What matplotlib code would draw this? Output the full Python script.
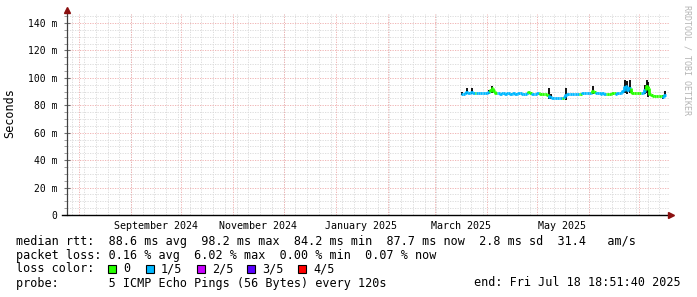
import datetime as dt
import matplotlib
matplotlib.use("Agg")
import matplotlib.pyplot as plt
import matplotlib.dates as mdates
from matplotlib.collections import LineCollection
from matplotlib.patches import Rectangle
from matplotlib.ticker import MultipleLocator, FuncFormatter

plt.rcParams['font.family'] = ['DejaVu Sans Mono']

W, H = 697, 297

# time window of the graph
t_start = dt.datetime(2024, 7, 24, 20, 0)
t_end = dt.datetime(2025, 7, 18, 18, 51, 40)
first_day = dt.datetime(2025, 3, 17)

# daily median rtt (ms) from Mar 17 2025
median = [
    88.6, 88.4, 88.9, 89.6, 88.7, 88.8, 89.4, 88.9, 88.7, 88.8,
    88.9, 88.8, 88.7, 88.8, 88.9, 89.0, 89.8, 91.5, 92.8, 90.2,
    89.1, 88.9, 88.7, 88.6, 88.7, 88.8, 88.6, 88.7, 88.8, 88.6,
    88.5, 88.7, 88.6, 88.6, 88.8, 88.7, 88.6, 88.5, 88.6, 88.7,
    89.6, 89.3, 88.6, 88.5, 88.6, 88.7, 88.8, 88.6, 88.5, 88.4,
    88.3, 87.6, 86.2, 85.9, 85.6, 85.4, 85.3, 85.5, 85.2, 85.4,
    85.6, 86.0, 87.8, 88.4, 88.2, 88.3, 88.1, 88.3, 88.4, 88.2,
    88.5, 88.6, 88.7, 88.8, 88.9, 88.7, 88.9, 89.2, 90.3, 89.4,
    88.9, 88.7, 88.8, 88.6, 88.7, 88.5, 88.6, 88.4, 88.6, 88.5,
    88.7, 88.8, 88.6, 88.7, 88.9, 89.2, 90.6, 93.5, 94.2, 91.0,
    92.4, 90.0, 89.2, 88.9, 89.0, 88.8, 88.9, 89.0, 89.3, 91.5,
    94.0, 92.8, 88.0, 87.2, 86.9, 86.8, 86.7, 86.9, 86.6, 86.8,
    85.9, 87.6,
]

# lost pings out of 5 for each day
loss = [
    1, 1, 1, 1, 1, 1, 1, 1, 0, 1,
    1, 1, 1, 1, 1, 1, 1, 0, 0, 0,
    0, 1, 1, 1, 1, 1, 1, 1, 1, 1,
    1, 1, 1, 1, 1, 1, 1, 1, 1, 1,
    0, 0, 1, 1, 1, 1, 0, 0, 0, 0,
    0, 0, 1, 1, 1, 1, 1, 1, 1, 1,
    0, 1, 1, 1, 1, 1, 1, 1, 1, 1,
    0, 0, 1, 1, 1, 1, 1, 1, 0, 0,
    1, 1, 1, 1, 1, 1, 0, 0, 0, 0,
    0, 0, 1, 1, 1, 1, 1, 1, 1, 1,
    1, 0, 0, 0, 0, 0, 0, 1, 1, 1,
    0, 0, 0, 0, 0, 0, 0, 0, 0, 0,
    1, 1,
]

# smoke (ping spread) on the days with a visible spread
spike_day = [0, 3, 6, 16, 18, 52, 53, 62, 78, 97, 98, 100, 109, 110, 111, 120, 121]
spike_lo = [87.8, 88.2, 88.3, 88.5, 89.0, 84.8, 84.6, 84.0, 88.2, 89.0, 88.0, 89.0, 88.0, 89.0, 86.0, 84.3, 86.0]
spike_hi = [89.8, 92.4, 92.5, 91.0, 93.8, 92.6, 88.0, 92.5, 93.8, 98.6, 97.5, 98.5, 95.0, 98.2, 97.2, 87.5, 90.5]

loss_colors = ['#26ff00', '#00b8ff', '#c800ff', '#5a00ff', '#ff0000']
loss_names = ['0', '1/5', '2/5', '3/5', '4/5']

month_labels = ['September 2024', 'November 2024', 'January 2025', 'March 2025', 'May 2025']
label_dates = [dt.datetime(2024, 9, 16), dt.datetime(2024, 11, 16), dt.datetime(2025, 1, 16),
               dt.datetime(2025, 3, 16, 12), dt.datetime(2025, 5, 16)]

stats_lines = [
    'median rtt:  88.6 ms avg  98.2 ms max  84.2 ms min  87.7 ms now  2.8 ms sd  31.4   am/s',
    'packet loss: 0.16 % avg  6.02 % max  0.00 % min  0.07 % now',
    'loss color:',
    'probe:       5 ICMP Echo Pings (56 Bytes) every 120s',
]
end_text = 'end: Fri Jul 18 18:51:40 2025'

fig = plt.figure(figsize=(W / 100, H / 100), dpi=100)
fig.patch.set_facecolor('white')
ax = fig.add_axes([67 / W, 82 / H, 602 / W, 201 / H])

x0 = mdates.date2num(t_start)
x1 = mdates.date2num(t_end)

for s in ax.spines.values():
    s.set_visible(False)

# grid
grid_minor = '#d8d8d8'
grid_major = '#eeaaaa'
dots = (0, (1.5, 1.5))
weeks = mdates.WeekdayLocator(byweekday=mdates.SU).tick_values(t_start, t_end)
months = mdates.MonthLocator().tick_values(t_start, t_end)
for w in weeks:
    if x0 < w < x1:
        ax.axvline(w, color=grid_minor, lw=0.6, linestyle=dots, zorder=0)
for m in months:
    if x0 < m < x1:
        ax.axvline(m, color=grid_major, lw=0.6, linestyle=dots, zorder=0.5)

ax.yaxis.set_major_locator(MultipleLocator(20))
ax.yaxis.set_minor_locator(MultipleLocator(5))
ax.grid(which='minor', axis='y', color=grid_minor, lw=0.6, linestyle=dots)
ax.grid(which='major', axis='y', color=grid_major, lw=0.6, linestyle=dots)
ax.set_axisbelow(True)
ax.yaxis.set_major_formatter(FuncFormatter(lambda v, p: '0' if v == 0 else f'{int(v)} m'))
ax.tick_params(axis='y', which='major', direction='inout', length=4, width=0.8,
               color='#707070', labelsize=7, pad=5)
ax.tick_params(axis='y', which='minor', direction='out', length=2, width=0.6, color='#909090')

# smoke
day_num = mdates.date2num(first_day)
sx = [day_num + d + 0.5 for d in spike_day]
ax.vlines(sx, spike_lo, spike_hi, colors='#000000', lw=1.3, zorder=2)

# median line colored by loss
segs = []
cols = []
for i, m in enumerate(median):
    xa = day_num + i
    prev = median[i - 1] if i > 0 else m
    segs.append([(xa, prev), (xa, m), (xa + 1, m)])
    cols.append(loss_colors[loss[i]])
ax.add_collection(LineCollection(segs, colors=cols, linewidths=2.0, zorder=3))

ax.set_xlim(x0, x1)
ax.set_ylim(0, 146.6)
ax.set_xticks(mdates.date2num(label_dates))
ax.set_xticklabels(month_labels)
ax.tick_params(axis='x', length=0, labelsize=7.2, pad=4)

# axes lines with arrows
ax.plot([0, 0], [0, 1.01], transform=ax.transAxes, color='#404040', lw=0.9, clip_on=False, zorder=5)
ax.plot([-5 / 602, 1.0], [0, 0], transform=ax.transAxes, color='black', lw=1.0, clip_on=False, zorder=5)
ax.plot([0], [1.02], transform=ax.transAxes, marker='^', ms=4, color='#8b1010', clip_on=False, zorder=6)
ax.plot([1.004], [0], transform=ax.transAxes, marker='>', ms=4, color='#8b1010', clip_on=False, zorder=6)

# labels and legend text
fig.text(10 / W, 1 - 113 / H, 'Seconds', rotation=90, ha='center', va='center', fontsize=8.5)
fig.text(687 / W, 1 - 5 / H, 'RRDTOOL / TOBI OETIKER', rotation=270, ha='center', va='top',
         fontsize=6, color='#b4b4b4')

rows_y = [241, 255, 269, 283]
for txt, yy in zip(stats_lines, rows_y):
    fig.text(16 / W, 1 - yy / H, txt, ha='left', va='center', fontsize=8.5)
fig.text(681 / W, 1 - rows_y[3] / H, end_text, ha='right', va='center', fontsize=8.5)

box_x = [108, 146, 197, 247, 298]
for bx, c, name in zip(box_x, loss_colors, loss_names):
    fig.add_artist(Rectangle((bx / W, 1 - 273 / H), 8 / W, 8 / H, transform=fig.transFigure,
                             facecolor=c, edgecolor='black', lw=0.8))
    fig.text((bx + 15) / W, 1 - rows_y[2] / H, name, ha='left', va='center', fontsize=8.5)

fig.savefig('out.png', dpi=100)
